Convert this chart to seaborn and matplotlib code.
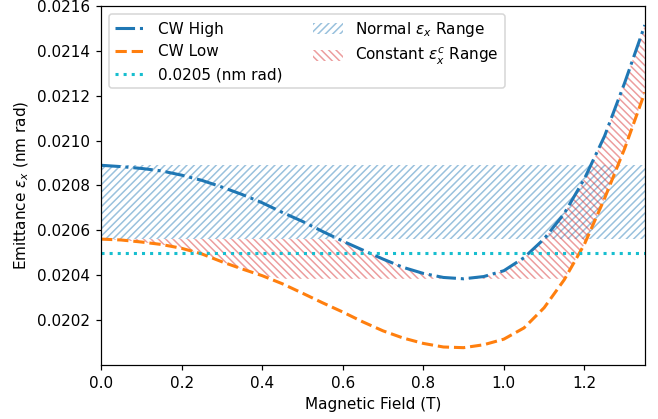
import numpy as np
import matplotlib
matplotlib.use('Agg')
import matplotlib.pyplot as plt
import seaborn as sns

# magnetic field (T) and emittance
field = [0.00, 0.05, 0.10, 0.15, 0.20, 0.25, 0.30, 0.35, 0.40, 0.45,
         0.50, 0.55, 0.60, 0.65, 0.70, 0.75, 0.80, 0.85, 0.90, 0.95,
         1.00, 1.05, 1.10, 1.15, 1.20, 1.25, 1.30, 1.35]
cw_high = [0.020890, 0.020884, 0.020876, 0.020865, 0.020846, 0.020823, 0.020793,
           0.020760, 0.020723, 0.020680, 0.020640, 0.020595, 0.020552, 0.020512,
           0.020472, 0.020435, 0.020408, 0.020390, 0.020384, 0.020394, 0.020420,
           0.020478, 0.020562, 0.020675, 0.020830, 0.021020, 0.021258, 0.021515]
cw_low = [0.020561, 0.020557, 0.020548, 0.020537, 0.020520, 0.020495, 0.020460,
          0.020428, 0.020398, 0.020362, 0.020320, 0.020277, 0.020236, 0.020192,
          0.020152, 0.020120, 0.020096, 0.020080, 0.020077, 0.020090, 0.020115,
          0.020165, 0.020255, 0.020380, 0.020538, 0.020742, 0.020965, 0.021215]
target = 0.0205

x = np.array(field)
high = np.array(cw_high)
low = np.array(cw_low)

DPI = 110
fig = plt.figure(figsize=(658 / DPI, 419 / DPI), dpi=DPI)
ax = fig.add_axes([0.1535, 0.129, 0.8265, 0.8567])

sns.lineplot(x=x, y=high, ax=ax, color='C0', linestyle='-.', linewidth=2, label='CW High')
sns.lineplot(x=x, y=low, ax=ax, color='C1', linestyle='--', linewidth=2, label='CW Low')
ax.axhline(target, color='C9', linestyle=':', linewidth=2, label='0.0205 (nm rad)')

# normal range: between the two curves at zero field
ax.fill_between([0, 1.35], low[0], high[0], facecolor='none', edgecolor='C0',
                alpha=0.45, hatch='/////', linewidth=0, label=r'Normal $\epsilon_x$ Range')

# constant range: bounded by the minimum of CW High and the CW Low start value
i_min = np.argmin(high)
lower = np.maximum(low, high.min())
upper = np.where(np.arange(len(x)) < i_min, np.minimum(high, low[0]), high)
ax.fill_between(x, lower, upper, where=upper >= lower, interpolate=True,
                facecolor='none', edgecolor='C3', alpha=0.45, hatch='\\\\\\\\\\',
                linewidth=0, label=r'Constant $\epsilon_x^c$ Range')

ax.set_xlim(0, 1.35)
ax.set_ylim(0.0200, 0.0216)
ax.set_yticks(np.arange(0.0202, 0.02161, 0.0002))
ax.set_yticklabels(['%.4f' % v for v in np.arange(0.0202, 0.02161, 0.0002)])
ax.set_xlabel('Magnetic Field (T)')
ax.set_ylabel(r'Emittance $\epsilon_x$ (nm rad)')
ax.legend(loc='upper left', ncol=2)

plt.savefig('out.png', dpi=DPI)
